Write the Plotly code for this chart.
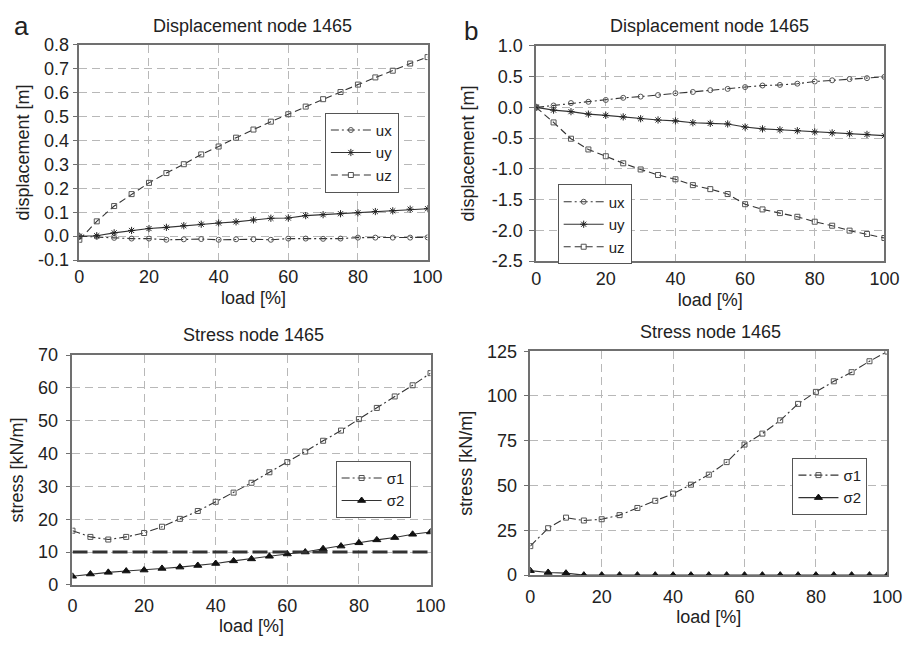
import plotly.graph_objects as go

load = [0, 5, 10, 15, 20, 25, 30, 35, 40, 45, 50, 55, 60, 65, 70, 75, 80, 85, 90, 95, 100]

# Panel a: displacement node 1465
a_ux = [0.0, -0.002, -0.007, -0.01, -0.01, -0.015, -0.013, -0.012, -0.015, -0.013, -0.013,
        -0.015, -0.01, -0.01, -0.011, -0.01, -0.006, -0.006, -0.006, -0.006, -0.005]
a_uy = [0.0, 0.002, 0.014, 0.024, 0.032, 0.037, 0.044, 0.05, 0.055, 0.06, 0.068,
        0.075, 0.076, 0.086, 0.09, 0.094, 0.098, 0.103, 0.106, 0.113, 0.115]
a_uz = [-0.015, 0.062, 0.126, 0.176, 0.223, 0.264, 0.301, 0.342, 0.375, 0.412, 0.446,
        0.479, 0.51, 0.542, 0.573, 0.603, 0.634, 0.664, 0.692, 0.722, 0.749]

# Panel b: displacement node 1465
b_ux = [0.0, 0.03, 0.07, 0.09, 0.12, 0.155, 0.175, 0.2, 0.23, 0.25, 0.28,
        0.30, 0.33, 0.355, 0.365, 0.385, 0.42, 0.44, 0.46, 0.475, 0.495]
b_uy = [0.0, -0.045, -0.07, -0.11, -0.13, -0.155, -0.185, -0.205, -0.22, -0.25, -0.26,
        -0.27, -0.32, -0.35, -0.365, -0.38, -0.40, -0.415, -0.43, -0.44, -0.46]
b_uz = [0.0, -0.245, -0.51, -0.685, -0.795, -0.91, -1.01, -1.10, -1.17, -1.265, -1.33,
        -1.41, -1.575, -1.66, -1.72, -1.78, -1.86, -1.925, -2.005, -2.06, -2.125]

# Panel c: stress node 1465
c_s1 = [16.5, 14.6, 13.8, 14.6, 15.8, 17.7, 20.1, 22.5, 25.3, 28.1, 31.1,
        34.3, 37.4, 40.6, 43.9, 47.0, 50.5, 53.9, 57.4, 60.8, 64.5]
c_s2 = [2.6, 3.3, 3.8, 4.2, 4.5, 5.0, 5.4, 5.9, 6.5, 7.3, 7.9,
        8.7, 9.4, 10.0, 11.0, 11.8, 12.8, 13.7, 14.4, 15.4, 16.1]
c_limit_x = [0, 100]
c_limit_y = [10, 10]

# Panel d: stress node 1465
d_s1 = [16.2, 26.2, 32.1, 30.5, 31.2, 33.5, 37.5, 41.5, 45.5, 50.5, 56.1,
        63.1, 72.9, 79.0, 86.4, 95.6, 102.3, 108.2, 113.3, 119.4, 124.8]
d_s2 = [2.5, 1.5, 1.1, 0, 0, 0, 0, 0, 0, 0, 0, 0, 0, 0, 0, 0, 0, 0, 0, 0, 0]

a_ticks = [-0.1, 0.0, 0.1, 0.2, 0.3, 0.4, 0.5, 0.6, 0.7, 0.8]
b_ticks = [-2.5, -2.0, -1.5, -1.0, -0.5, 0.0, 0.5, 1.0]
c_ticks = [0, 10, 20, 30, 40, 50, 60, 70]
d_ticks = [0, 25, 50, 75, 100, 125]
x_ticks = [0, 20, 40, 60, 80, 100]

W, H = 917, 653
FONT = "Liberation Sans, Arial, sans-serif"
TXT = "#222222"
LINE = "#333333"
MK = "#555555"

def dom_x(a, b):
    return [a / W, b / W]

def dom_y(top, bottom):
    return [1 - bottom / H, 1 - top / H]

fig = go.Figure()

def add(x, y, name, dash, symbol, xa, ya, legend, msize=5, mcolor=MK, showlegend=True, lw=1.1):
    fig.add_trace(go.Scatter(
        x=x, y=y, name=name, mode="lines+markers" if symbol else "lines",
        line=dict(color=LINE, width=lw, dash=dash),
        marker=dict(symbol=symbol or "circle", size=msize, color=mcolor,
                    line=dict(color=mcolor, width=1)),
        xaxis=xa, yaxis=ya, legend=legend, showlegend=showlegend))

DASHDOT = "8px,3px,2px,3px"
DASH = "7px,4px"

add(load, a_ux, "ux", DASHDOT, "circle-open", "x", "y", "legend")
add(load, a_uy, "uy", "solid", "asterisk-open", "x", "y", "legend", msize=6, mcolor="#222")
add(load, a_uz, "uz", DASH, "square-open", "x", "y", "legend")

add(load, b_ux, "ux", DASHDOT, "circle-open", "x2", "y2", "legend2")
add(load, b_uy, "uy", "solid", "asterisk-open", "x2", "y2", "legend2", msize=6, mcolor="#222")
add(load, b_uz, "uz", DASH, "square-open", "x2", "y2", "legend2")

add(load, c_s1, "σ1", DASHDOT, "square-open", "x3", "y3", "legend3")
add(load, c_s2, "σ2", "solid", "triangle-up", "x3", "y3", "legend3", msize=7, mcolor="#111")
add(c_limit_x, c_limit_y, "limit", "15px,5px", None, "x3", "y3", "legend3", showlegend=False, lw=3)

add(load, d_s1, "σ1", DASHDOT, "square-open", "x4", "y4", "legend4")
add(load, d_s2, "σ2", "solid", "triangle-up", "x4", "y4", "legend4", msize=7, mcolor="#111")

tf = dict(family=FONT, size=18, color=TXT)
common = dict(
    showline=True, mirror=True, linecolor="#707070", linewidth=1.5,
    showgrid=True, gridcolor="#b8b8b8", griddash="8px,5px", gridwidth=1,
    zeroline=False, tickfont=tf,
)

def xax(dom, anchor, lso, tso):
    d = dict(common)
    d.update(domain=dom, anchor=anchor, range=[0, 100], tickvals=x_ticks, ticks="",
             ticklabelstandoff=lso, title=dict(text="load [%]", standoff=tso, font=tf))
    return d

def yax(dom, anchor, rng, vals, txt, title, lso, tso):
    d = dict(common)
    d.update(domain=dom, anchor=anchor, range=rng, tickvals=vals, ticktext=txt,
             ticks="outside", ticklen=5, tickcolor="#707070", tickwidth=1,
             ticklabelstandoff=lso, title=dict(text=title, standoff=tso, font=tf))
    return d

fig.update_layout(
    width=W, height=H, margin=dict(l=0, r=0, t=0, b=0),
    paper_bgcolor="white", plot_bgcolor="white",
    font=dict(family=FONT, size=18, color=TXT),
    xaxis=xax(dom_x(76, 432), "y", 0, 5),
    yaxis=yax(dom_y(36, 258), "x", [-0.1, 0.8], a_ticks, [f"{v:.1f}" for v in a_ticks],
              "displacement [m]", 0, 4),
    xaxis2=xax(dom_x(543, 899), "y2", 1, 5),
    yaxis2=yax(dom_y(37, 259), "x2", [-2.5, 1.0], b_ticks, [f"{v:.1f}" for v in b_ticks],
               "displacement [m]", 3, 12),
    xaxis3=xax(dom_x(69, 435), "y3", 4, 4),
    yaxis3=yax(dom_y(356, 593), "x3", [0, 70], c_ticks, [str(v) for v in c_ticks],
               "stress [kN/m]", 4, 10),
    xaxis4=xax(dom_x(537, 902), "y4", 5, 4),
    yaxis4=yax(dom_y(352, 583), "x4", [0, 125], d_ticks, [str(v) for v in d_ticks],
               "stress [kN/m]", 3, 10),
)

def legend(xpx, ypx):
    return dict(x=xpx / W, y=1 - ypx / H, xanchor="left", yanchor="top",
                bgcolor="white", bordercolor="#555555", borderwidth=1,
                font=dict(family=FONT, size=15, color=TXT), tracegroupgap=0,
                itemwidth=40)

fig.update_layout(
    legend=legend(327, 106),
    legend2=legend(565, 180),
    legend3=legend(338, 465),
    legend4=legend(805, 462),
)

def ann(text, xpx, ypx, size=18):
    fig.add_annotation(text=text, x=xpx / W, y=1 - ypx / H, xref="paper", yref="paper",
                       showarrow=False, xanchor="center", yanchor="middle",
                       font=dict(family=FONT, size=size, color=TXT))

ann("Displacement node 1465", 253, 16)
ann("Displacement node 1465", 720, 17)
ann("Stress node 1465", 254, 335)
ann("Stress node 1465", 721, 332)
ann("a", 17, 16, 26)
ann("b", 476, 22, 26)

fig.write_html("out.html")
